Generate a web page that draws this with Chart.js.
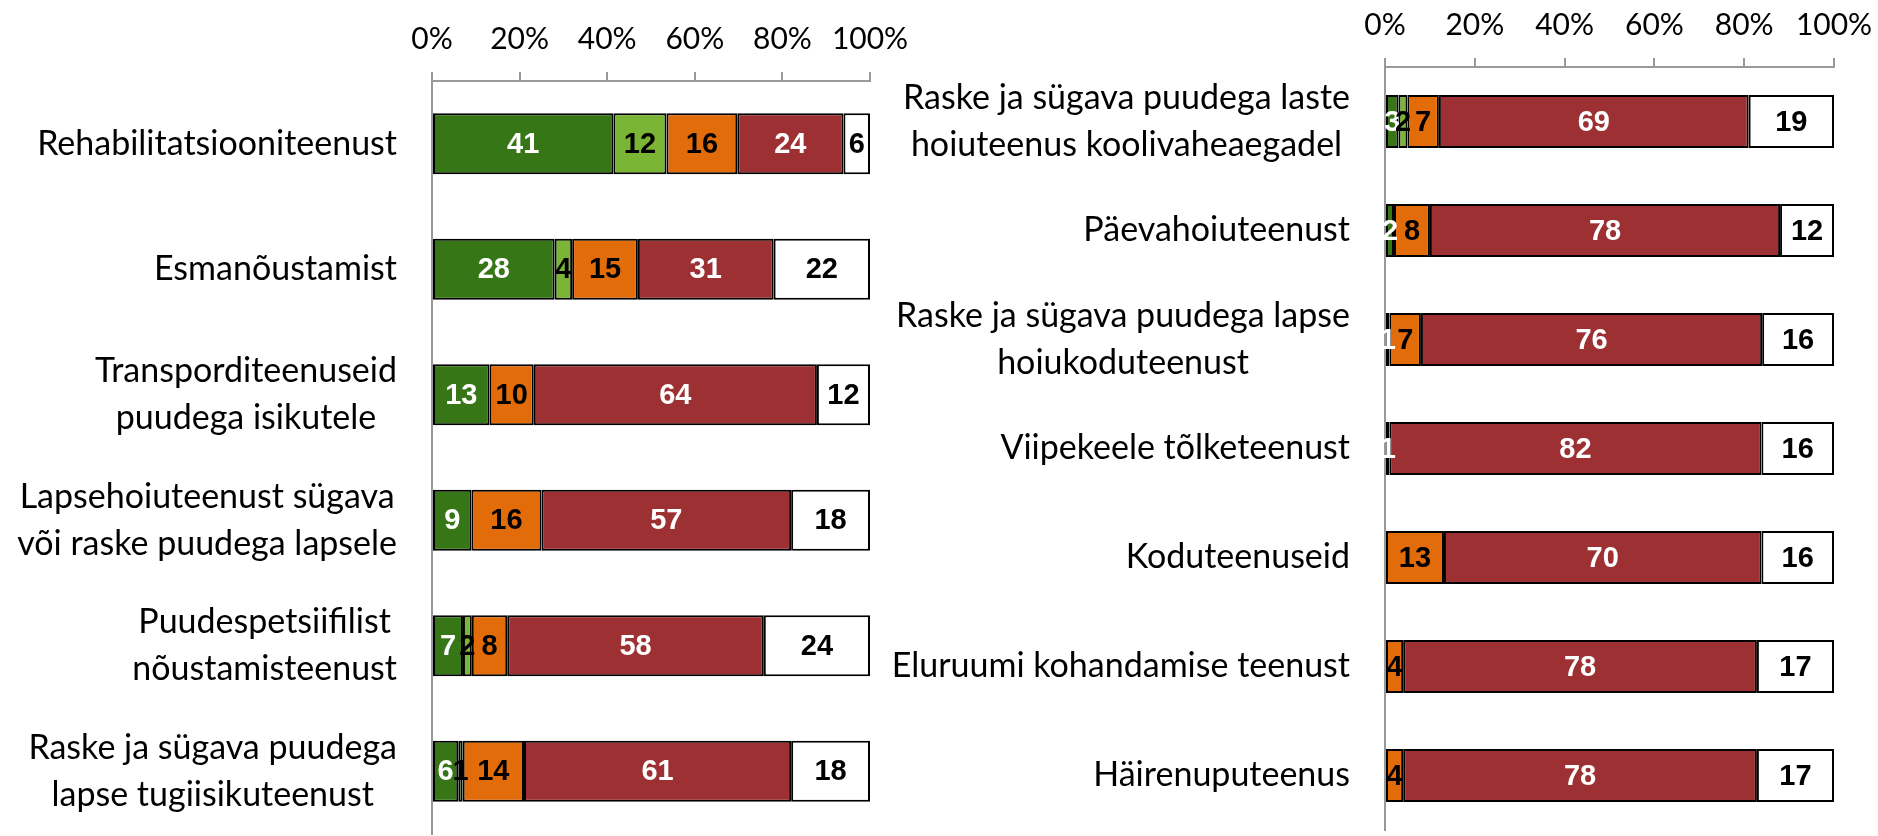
<!DOCTYPE html>
<html>
<head>
<meta charset="UTF-8">
<title>Teenused</title>
<script src="https://cdn.jsdelivr.net/npm/chart.js"></script>
<style>
    body { margin: 0; background: #fff; overflow: hidden; }
    #leftChart { position: absolute; left: 0; top: 0; }
    #rightChart { position: absolute; left: 850px; top: 0; }
</style>
</head>
<body>
<canvas id="leftChart" width="940" height="836"></canvas>
<canvas id="rightChart" width="1054" height="836"></canvas>
<script>
// x axis ticks
const tickValues = [0, 20, 40, 60, 80, 100];

// left chart
const leftCategories = [
    'Rehabilitatsiooniteenust',
    'Esmanõustamist',
    ['Transporditeenuseid', 'puudega isikutele'],
    ['Lapsehoiuteenust sügava', 'või raske puudega lapsele'],
    ['Puudespetsiifilist', 'nõustamisteenust'],
    ['Raske ja sügava puudega', 'lapse tugiisikuteenust']
];
const leftDarkGreen  = [41, 28, 13, 9, 7, 6];
const leftLightGreen = [12, 4, 0, 0, 2, 1];
const leftOrange     = [16, 15, 10, 16, 8, 14];
const leftRed        = [24, 31, 64, 57, 58, 61];
const leftWhite      = [6, 22, 12, 18, 24, 18];

// right chart
const rightCategories = [
    ['Raske ja sügava puudega laste', 'hoiuteenus koolivaheaegadel'],
    'Päevahoiuteenust',
    ['Raske ja sügava puudega lapse', 'hoiukoduteenust'],
    'Viipekeele tõlketeenust',
    'Koduteenuseid',
    'Eluruumi kohandamise teenust',
    'Häirenuputeenus'
];
const rightDarkGreen  = [3, 2, 1, 1, 0, 0, 0];
const rightLightGreen = [2, 0, 0, 0, 0, 0, 0];
const rightOrange     = [7, 8, 7, 0, 13, 4, 4];
const rightRed        = [69, 78, 76, 82, 70, 78, 78];
const rightWhite      = [19, 12, 16, 16, 16, 17, 17];

const fillColors  = ['#377617', '#7ab535', '#e36c0a', '#9c3033', '#ffffff'];
const labelColors = ['#ffffff', '#000000', '#000000', '#ffffff', '#000000'];

// values shown as labels, bars drawn as share of the row total (100% stacked)
function buildDatasets(series) {
    const totals = series[0].map((_, i) => series.reduce((s, arr) => s + arr[i], 0));
    return series.map((arr, k) => ({
        data: arr.map((v, i) => v / totals[i] * 100),
        shown: arr,
        backgroundColor: fillColors[k],
        borderColor: '#000',
        borderWidth: 2,
        borderSkipped: false,
        barPercentage: 0.487,
        categoryPercentage: 1
    }));
}

// numbers in the middle of each segment
const valueLabels = {
    id: 'valueLabels',
    afterDatasetsDraw(chart) {
        const ctx = chart.ctx;
        ctx.save();
        ctx.font = 'bold 29px "Liberation Sans", Arial, sans-serif';
        ctx.textAlign = 'center';
        ctx.textBaseline = 'middle';
        chart.data.datasets.forEach((ds, k) => {
            const meta = chart.getDatasetMeta(k);
            meta.data.forEach((bar, i) => {
                const v = ds.shown[i];
                if (!v) return;
                const p = bar.getProps(['x', 'y', 'base'], true);
                ctx.fillStyle = labelColors[k];
                ctx.fillText(String(v), (p.x + p.base) / 2, p.y + 1);
            });
        });
        ctx.restore();
    }
};

// category names: block right aligned, lines centred to each other
const categoryLabels = {
    id: 'categoryLabels',
    afterDraw(chart) {
        const ctx = chart.ctx;
        const scale = chart.scales.y;
        const lineH = 47;
        ctx.save();
        ctx.font = '34px Lato, "Open Sans", sans-serif';
        ctx.fillStyle = '#000';
        ctx.textAlign = 'center';
        ctx.textBaseline = 'middle';
        chart.data.labels.forEach((lab, i) => {
            const lines = Array.isArray(lab) ? lab : [lab];
            const w = Math.max(...lines.map(l => ctx.measureText(l).width));
            const cx = chart.chartArea.left - 35 - w / 2;
            const cy = scale.getPixelForTick(i);
            lines.forEach((l, j) => {
                ctx.fillText(l, cx, cy + (j - (lines.length - 1) / 2) * lineH);
            });
        });
        ctx.restore();
    }
};

function makeChart(id, labels, series, axisWidth, axisHeight, padRight, padBottom) {
    return new Chart(document.getElementById(id), {
        type: 'bar',
        data: { labels: labels, datasets: buildDatasets(series) },
        options: {
            indexAxis: 'y',
            responsive: false,
            animation: false,
            devicePixelRatio: 1,
            layout: { padding: { left: 0, top: 0, right: padRight, bottom: padBottom } },
            plugins: { legend: { display: false }, tooltip: { enabled: false } },
            scales: {
                x: {
                    position: 'top',
                    stacked: true,
                    min: 0,
                    max: 100,
                    afterBuildTicks: scale => { scale.ticks = tickValues.map(v => ({ value: v })); },
                    afterFit: scale => { scale.height = axisHeight; },
                    ticks: {
                        color: '#000',
                        padding: 15,
                        maxRotation: 0,
                        font: { family: 'Lato', size: 30 },
                        callback: v => v + '%'
                    },
                    grid: { drawOnChartArea: false, drawTicks: true, tickLength: 9, color: '#999', lineWidth: 2 },
                    border: { display: true, color: '#999', width: 2 }
                },
                y: {
                    stacked: true,
                    afterFit: scale => { scale.width = axisWidth; },
                    ticks: { display: false },
                    grid: { display: false },
                    border: { display: true, color: '#999', width: 2 }
                }
            }
        },
        plugins: [valueLabels, categoryLabels]
    });
}

makeChart('leftChart', leftCategories,
    [leftDarkGreen, leftLightGreen, leftOrange, leftRed, leftWhite], 432, 81, 70, 2);
makeChart('rightChart', rightCategories,
    [rightDarkGreen, rightLightGreen, rightOrange, rightRed, rightWhite], 535, 67, 70, 6);
</script>
</body>
</html>
